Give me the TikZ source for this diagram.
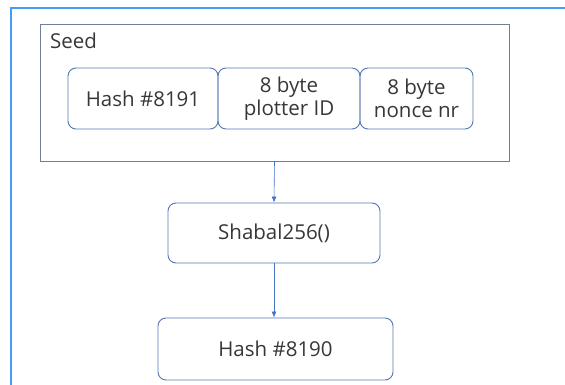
\documentclass[tikz,border=0pt]{standalone}
\usepackage{fontspec}
\setmainfont{Open Sans}
\usepackage{tikz}
\usetikzlibrary{arrows.meta}
\definecolor{boxline}{RGB}{84,120,176}
\definecolor{seedline}{RGB}{112,126,150}
\definecolor{frameline}{RGB}{70,155,245}
\definecolor{arrowline}{RGB}{68,114,196}
\definecolor{txt}{RGB}{55,55,55}
\tikzset{
    every node/.style={text=txt, font=\fontsize{20.5}{23}\selectfont}
}
\tikzset{
    part/.style={draw=boxline, line width=0.9pt, rounded corners=8pt,
    	align=center, inner sep=0pt}
}
\tikzset{
    flow/.style={draw=arrowline, line width=0.6pt,
    	-{Latex[length=6pt,width=5pt]}}
}

\begin{document}
\begin{tikzpicture}[x=1pt, y=-1pt]
	\useasboundingbox (0,0) rectangle (565,385);
	\draw [frameline, line width=1.5pt] (11,385) -- (11,8) -- (566,8);
	
	\node (seed) [draw=seedline, line width=0.9pt, minimum width=469pt, minimum height=137pt] at (274.5,92.5) {};
	\node (seedlabel) [anchor=west, inner sep=0pt] at (50,41) {Seed};
	
	\node (hash) [part, minimum width=150pt, minimum height=61pt] at (143,98.5) {Hash \#8191};
	\node (plotter) [part, minimum width=142pt, minimum height=61pt] at (289,98.5) {8 byte\\plotter ID};
	\node (nonce) [part, minimum width=113pt, minimum height=61pt] at (416.5,98.5) {8 byte\\nonce nr};
	
	\node (shabal) [part, minimum width=212pt, minimum height=60pt] at (274,233) {Shabal256()};
	\node (next) [part, minimum width=235pt, minimum height=62pt] at (275.5,349) {Hash \#8190};
	
	\draw [flow] (seed.south) -- (shabal.north);
	\draw [flow] (shabal.south) -- (shabal.south |- next.north);
\end{tikzpicture}
\end{document}
